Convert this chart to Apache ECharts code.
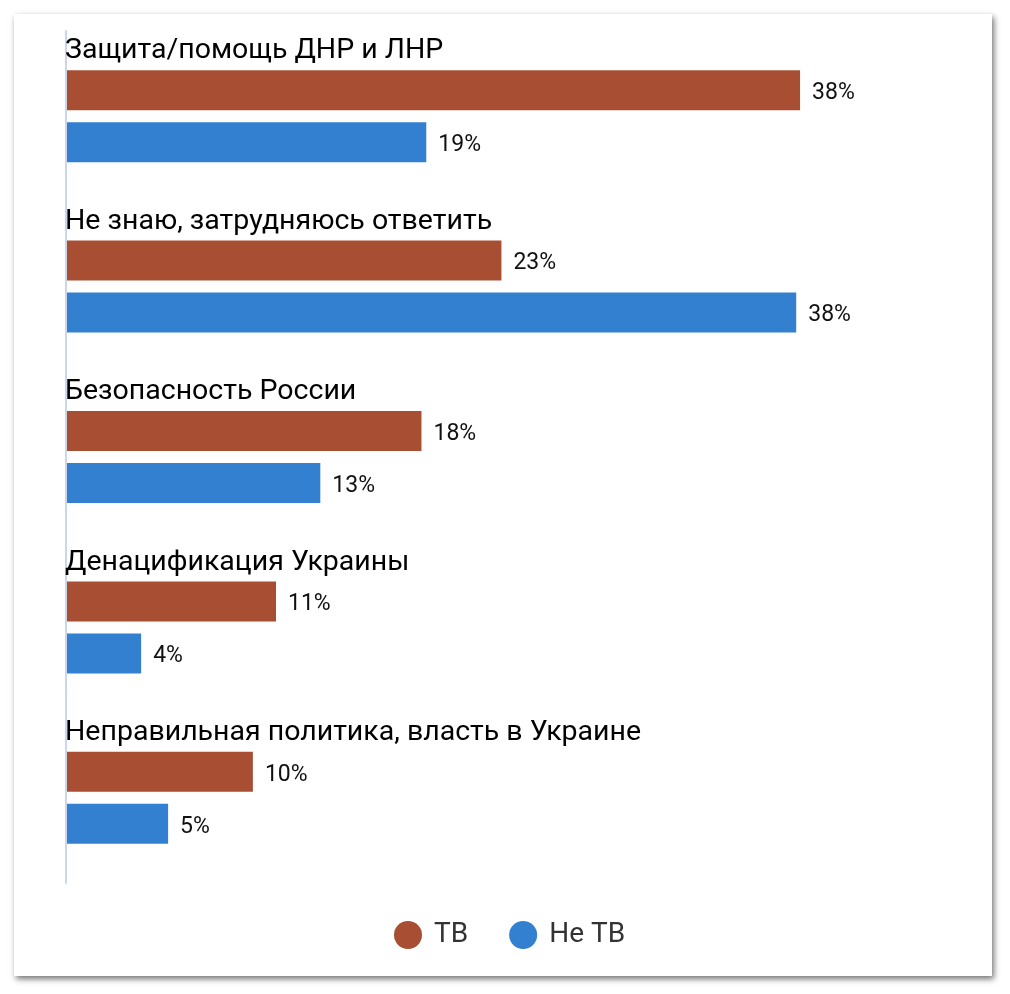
<!DOCTYPE html>
<html>
<head>
<meta charset="utf-8">
<script src="https://cdn.jsdelivr.net/npm/echarts@6/dist/echarts.min.js"></script>
<style>
  html, body { margin: 0; padding: 0; background: #fff; }
  #card { position: absolute; left: 14px; top: 14px; width: 978px; height: 962px; background: #fff;
          box-shadow: 2px 3px 6px rgba(0,0,0,0.55); }
  #chart { position: absolute; left: 0; top: 0; width: 1010px; height: 994px; }
</style>
</head>
<body>
<div id="card"></div>
<div id="chart"></div>
<script>
const categories = [
  'Защита/помощь ДНР и ЛНР',
  'Не знаю, затрудняюсь ответить',
  'Безопасность России',
  'Денацификация Украины',
  'Неправильная политика, власть в Украине'
];
const seriesNames = ['ТВ', 'Не ТВ'];
const tvValues = [38.1, 22.6, 18.45, 10.9, 9.7];
const notTvValues = [18.7, 37.9, 13.2, 3.9, 5.3];
const colors = ['#A84F33', '#3380D0'];

const chart = echarts.init(document.getElementById('chart'), null, { renderer: 'canvas' });
const valueLabel = {
  show: true,
  position: 'right',
  distance: 12,
  offset: [0, 3],
  color: '#111',
  fontFamily: 'Roboto',
  fontSize: 23,
  formatter: p => Math.round(p.value) + '%'
};
chart.setOption({
  backgroundColor: 'transparent',
  animation: false,
  grid: { left: 66, top: 31, width: 867, height: 852, containLabel: false, outerBoundsMode: 'none' },
  xAxis: {
    type: 'value', min: 0, max: 45, show: false
  },
  yAxis: {
    type: 'category',
    data: categories,
    inverse: true,
    offset: 1,
    axisLine: { show: true, lineStyle: { color: '#CCD6EB', width: 2 } },
    axisTick: { show: false },
    splitLine: { show: false },
    axisLabel: {
      inside: true,
      margin: 0,
      align: 'left',
      verticalAlign: 'bottom',
      lineHeight: 130,
      color: '#000',
      fontFamily: 'Roboto',
      fontSize: 28.5
    },
    z: 5
  },
  legend: {
    left: 389,
    top: 916,
    icon: 'circle',
    itemWidth: 28,
    itemHeight: 28,
    itemGap: 41,
    data: seriesNames,
    textStyle: { color: '#333', fontFamily: 'Roboto', fontSize: 28, padding: [3, 0, 0, 7] }
  },
  series: [
    {
      name: seriesNames[0], type: 'bar', data: tvValues,
      barWidth: 40, barGap: '30%',
      itemStyle: { color: colors[0] },
      label: valueLabel
    },
    {
      name: seriesNames[1], type: 'bar', data: notTvValues,
      barWidth: 40, barGap: '30%',
      itemStyle: { color: colors[1] },
      label: valueLabel
    }
  ]
});
</script>
</body>
</html>
